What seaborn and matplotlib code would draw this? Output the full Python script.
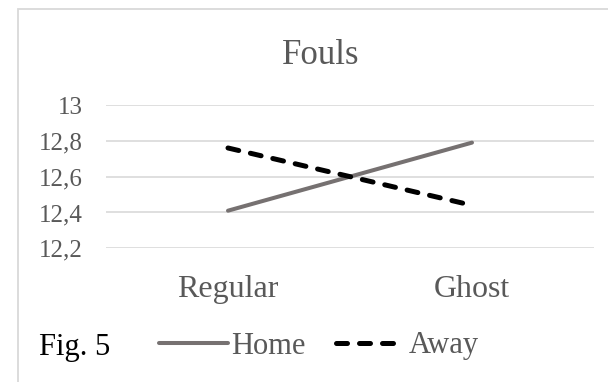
import matplotlib
matplotlib.use("Agg")
import matplotlib.pyplot as plt
from matplotlib.lines import Line2D
from matplotlib.patches import Rectangle
from matplotlib.ticker import FuncFormatter
import pandas as pd
import seaborn as sns

# Data
categories = ["Regular", "Ghost"]
home = [12.41, 12.79]
away = [12.76, 12.44]
series_names = ["Home", "Away"]
yticks = [12.2, 12.4, 12.6, 12.8, 13.0]

df = pd.DataFrame({
    "game": categories * 2,
    "fouls": home + away,
    "side": [series_names[0]] * len(categories) + [series_names[1]] * len(categories),
})

sns.set_theme(style="white")
plt.rcParams["font.family"] = ["Liberation Serif", "DejaVu Serif"]

W, H = 608, 382
fig = plt.figure(figsize=(W / 100, H / 100), dpi=100)
ax = fig.add_axes([106 / W, 1 - 248.3 / H, (594 - 106) / W, (248.3 - 105) / H])

home_c = "#767171"
away_c = "#000000"
text_c = "#595959"
away_dash = (2.2, 2.4)

sns.lineplot(
    data=df, x="game", y="fouls", hue="side", style="side",
    palette={"Home": home_c, "Away": away_c},
    dashes={"Home": "", "Away": away_dash},
    sort=False, legend=False, ax=ax,
)
widths = {"Home": 2.9, "Away": 3.6}
for line, name in zip(ax.lines, series_names):
    line.set_linewidth(widths[name])
    line.set_solid_capstyle("round")
    line.set_dash_capstyle("round")

ax.set_xlim(-0.5, 1.5)
ax.set_ylim(12.2, 13.0)
ax.set_yticks(yticks)
ax.yaxis.set_major_formatter(FuncFormatter(lambda v, p: f"{v:g}".replace(".", ",")))
ax.grid(axis="y", color="#d9d9d9", linewidth=1.2)
ax.grid(axis="x", visible=False)
ax.set_axisbelow(True)
for s in ax.spines.values():
    s.set_visible(False)
ax.set_xlabel("")
ax.set_ylabel("")
ax.tick_params(axis="y", length=0, pad=16.5, labelsize=18, labelcolor=text_c)
ax.tick_params(axis="x", length=0, pad=19, labelsize=23, labelcolor=text_c)

# Title
fig.text(321 / W, 1 - 64.3 / H, "Fouls", ha="center", va="baseline",
         fontsize=25, color=text_c)

# Figure frame
fig.patches.append(Rectangle((18.3 / W, -0.1), 1.1, 1 - 8.5 / H + 0.1,
                             transform=fig.transFigure, fill=False,
                             edgecolor="#d9d9d9", linewidth=1.3))

# Caption and legend row
fig.text(39 / W, 1 - 355 / H, "Fig. 5", ha="left", va="baseline",
         fontsize=22, color="black")
handles = [
    Line2D([], [], color=home_c, lw=widths["Home"], solid_capstyle="round"),
    Line2D([], [], color=away_c, lw=widths["Away"], dashes=away_dash,
           dash_capstyle="round"),
]
fig.legend(handles, series_names, loc="center left",
           bbox_to_anchor=(159 / W, 1 - 346 / H), ncol=2, frameon=False,
           fontsize=22, labelcolor=text_c, handlelength=2.25,
           handletextpad=0.12, columnspacing=1.0, borderpad=0, borderaxespad=0)

fig.savefig("out.png", dpi=100)
